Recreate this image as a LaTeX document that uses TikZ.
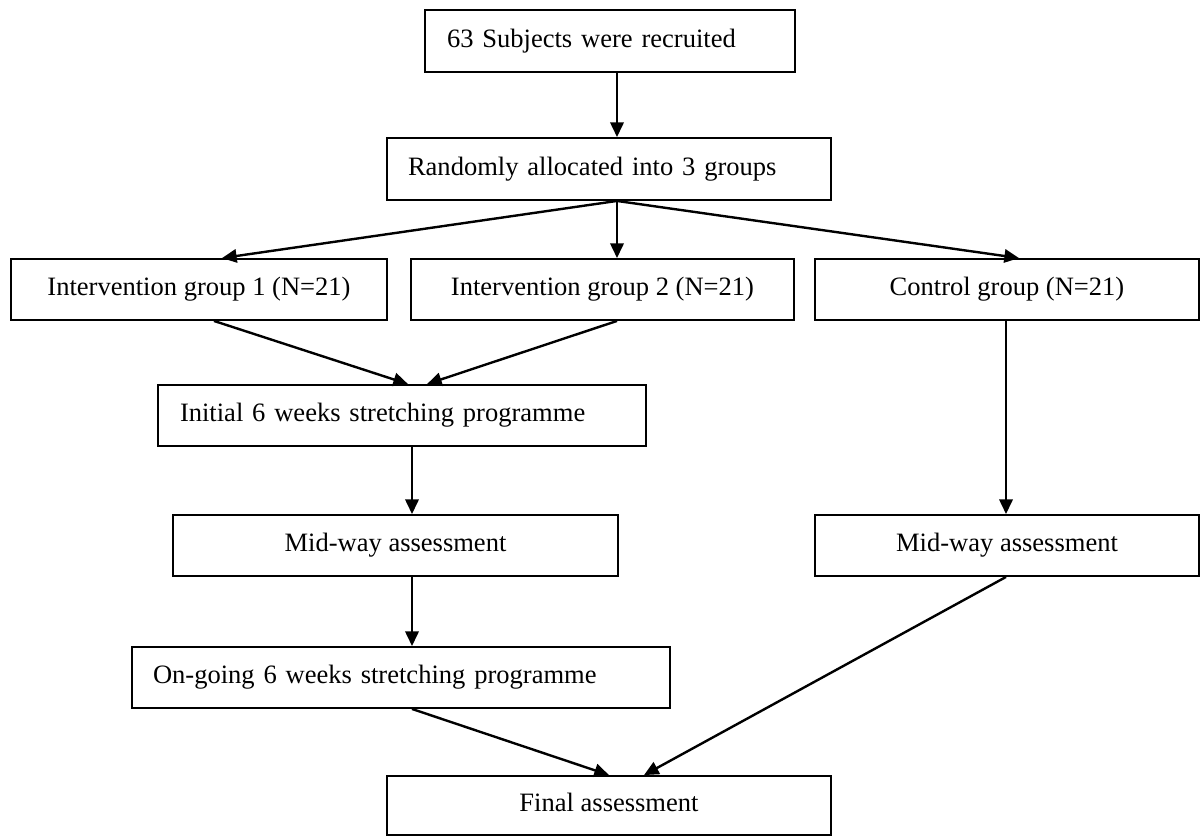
\documentclass[tikz,border=0pt]{standalone}
\usepackage{fontspec}
\setmainfont{Liberation Serif}
\usetikzlibrary{arrows.meta}
\newfontfamily\boxfont{Liberation Serif}
\tikzset{
  box/.style={draw, line width=1.4pt, inner sep=0pt, minimum height=45.75pt,
    font=\fontsize{19.9}{23}\selectfont, text height=13.5pt, text depth=4.5pt},
  cbox/.style={box, minimum width=#1, align=center},
  lbox/.style={box, text width=#1, align=left},
  arr/.style={line width=1.8pt, -{Triangle[length=11pt,width=10pt]}}
}
\begin{document}
\begin{tikzpicture}[x=0.75pt,y=-0.75pt]
\useasboundingbox (0,0) rectangle (1201,836);
% nodes
\node[lbox=244.5pt, inner xsep=16.5pt, minimum height=46.5pt] (b1) at (610,41) {63 Subjects were recruited};
\node[lbox=301.5pt, inner xsep=15.75pt, minimum height=46.5pt] (b2) at (609,169) {Randomly allocated into 3 groups};
\node[cbox=282pt] (b3) at (199,289.5) {Intervention group 1 (N=21)};
\node[cbox=287.25pt] (b4) at (602.5,289.5) {Intervention group 2 (N=21)};
\node[cbox=288pt] (b5) at (1007,289.5) {Control group (N=21)};
\node[lbox=333pt, inner xsep=16.5pt] (b6) at (402,415.5) {Initial 6 weeks stretching programme};
\node[cbox=333.75pt] (b7) at (395.5,545.5) {Mid-way assessment};
\node[cbox=288pt] (b8) at (1007,545.5) {Mid-way assessment};
\node[lbox=372pt, inner xsep=15.75pt] (b9) at (401,677.5) {On-going 6 weeks stretching programme};
\node[cbox=333pt, minimum height=44.25pt] (b10) at (609,805.5) {Final assessment};
% x positions of connector ends
\coordinate (x617) at (617,0);
\coordinate (x222) at (222,0);
\coordinate (x1019) at (1019,0);
\coordinate (x214) at (214,0);
\coordinate (x408) at (408,0);
\coordinate (x427) at (427,0);
\coordinate (x412) at (412,0);
\coordinate (x1006) at (1006,0);
\coordinate (x609) at (609,0);
\coordinate (x644) at (644,0);
% connectors
\draw[arr] (b1.south -| x617) -- (b2.north -| x617);
\draw[arr] (b2.south -| x617) -- (b3.north -| x222);
\draw[arr] (b2.south -| x617) -- (b4.north -| x617);
\draw[arr] (b2.south -| x617) -- (b5.north -| x1019);
\draw[arr] (b3.south -| x214) -- (b6.north -| x408);
\draw[arr] (b4.south -| x617) -- (b6.north -| x427);
\draw[arr] (b6.south -| x412) -- (b7.north -| x412);
\draw[arr] (b5.south -| x1006) -- (b8.north -| x1006);
\draw[arr] (b7.south -| x412) -- (b9.north -| x412);
\draw[arr] (b9.south -| x412) -- (b10.north -| x609);
\draw[arr] (b8.south -| x1006) -- (b10.north -| x644);
\end{tikzpicture}
\end{document}
